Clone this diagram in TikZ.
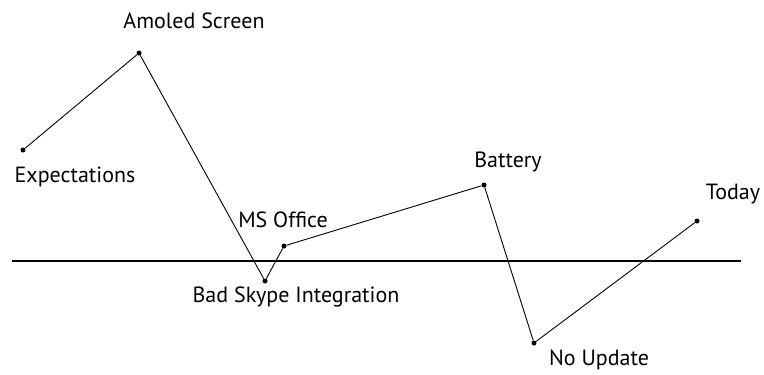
\documentclass[tikz,border=0pt]{standalone}
\usepackage{fontspec}
\setmainfont{PT Sans}
\usetikzlibrary{positioning}

\begin{document}
\begin{tikzpicture}[x=1pt,y=-1pt]

\tikzset{point/.style = {shape=circle,fill,inner sep=0pt,minimum size=5pt}}
\tikzset{tag/.style = {font=\fontsize{22}{26}\selectfont,inner sep=0pt}}
\tikzset{curve/.style = {line width=0.9pt}}
\useasboundingbox (0,0) rectangle (764,375);
%points
\node[point] (exp) at (23,150) {};
\node[point] (amo) at (139,53) {};
\node[point] (sky) at (265,281) {};
\node[point] (ms) at (284,246) {};
\node[point] (bat) at (484,185) {};
\node[point] (noup) at (534,343) {};
\node[point] (today) at (697,221) {};
%labels
\node[tag] (lexp) at (75,177) {Expectations};
\node[tag] (lamo) at (194,21) {Amoled Screen};
\node[tag] (lsky) at (296,297) {Bad Skype Integration};
\node[tag] (lms) at (283,220) {MS Office};
\node[tag] (lbat) at (508,162) {Battery};
\node[tag] (lnoup) at (599,360) {No Update};
\node[tag] (ltoday) at (733,194) {Today};
%axis
\coordinate (left) at (12,261);
\coordinate (right) at (741,261);
\draw[line width=1.5pt] (left) -- (right);
%lines
\draw[curve] (exp) -- (amo) -- (sky) -- (ms) -- (bat) -- (noup) -- (today);

\end{tikzpicture}
\end{document}
